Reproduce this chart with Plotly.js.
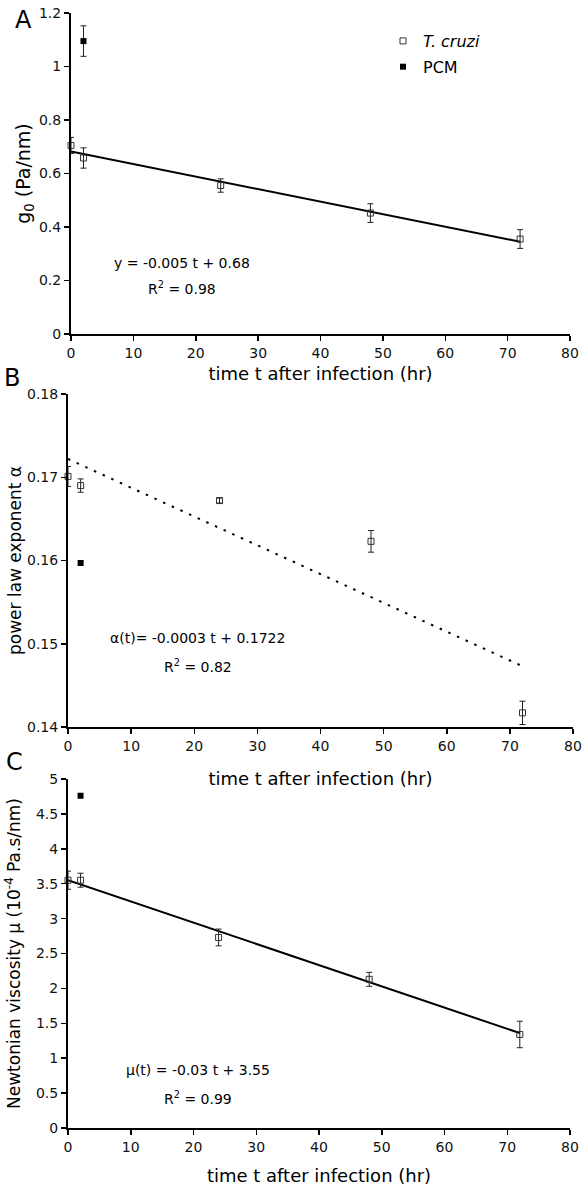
<!DOCTYPE html>
<html>
<head>
<meta charset="utf-8">
<script src="https://cdn.plot.ly/plotly-3.0.1.min.js"></script>
<style>html,body{margin:0;padding:0;background:#fff;}#chart{width:586px;height:1192px;}</style>
</head>
<body>
<div id="chart"></div>
<script>
// ---- data ----
const timeHr = [0, 2, 24, 48, 72];
const pcmTime = [2];
const fitTime = [0, 72];

const g0Cruzi = [0.705, 0.658, 0.555, 0.452, 0.355];
const g0CruziErr = [0.030, 0.038, 0.025, 0.035, 0.035];
const g0Pcm = [1.095];
const g0PcmErr = [0.057];
const g0Fit = [0.682, 0.345];

const alphaCruzi = [0.1701, 0.1690, 0.1672, 0.1623, 0.1417];
const alphaCruziErr = [0.0012, 0.0008, 0.0003, 0.0013, 0.0014];
const alphaPcm = [0.1597];
const alphaFit = [0.1722, 0.1473];

const muCruzi = [3.55, 3.55, 2.73, 2.13, 1.34];
const muCruziErr = [0.13, 0.10, 0.12, 0.10, 0.19];
const muPcm = [4.76];
const muFit = [3.55, 1.36];

const xTicks = [0, 10, 20, 30, 40, 50, 60, 70, 80];

// ---- styling helpers ----
const FONT = "'DejaVu Sans', Verdana, sans-serif";
const W = 586, H = 1192;
const px = v => v / W;
const py = v => 1 - v / H;

function openSq(x, y, err, xa, ya, legend) {
  return {
    type: 'scatter', mode: 'markers', x: x, y: y, xaxis: xa, yaxis: ya,
    name: '<i>T. cruzi</i>', showlegend: legend, legendgroup: 'a',
    cliponaxis: false,
    marker: {symbol: 'square-open', size: 6, color: '#333', line: {width: 1, color: '#333'}},
    error_y: {type: 'data', array: err, visible: true, color: '#222', thickness: 1, width: 3}
  };
}
function filledSq(x, y, err, xa, ya, legend) {
  const tr = {
    type: 'scatter', mode: 'markers', x: x, y: y, xaxis: xa, yaxis: ya,
    name: 'PCM', showlegend: legend, legendgroup: 'b',
    cliponaxis: false,
    marker: {symbol: 'square', size: 6, color: '#000'}
  };
  if (err) tr.error_y = {type: 'data', array: err, visible: true, color: '#222', thickness: 1, width: 3};
  return tr;
}
function fitLine(x, y, xa, ya, dash) {
  return {
    type: 'scatter', mode: 'lines', x: x, y: y, xaxis: xa, yaxis: ya,
    showlegend: false, hoverinfo: 'skip',
    line: {color: '#000', width: 2, dash: dash || 'solid'}
  };
}

const data = [
  fitLine(fitTime, g0Fit, 'x', 'y'),
  openSq(timeHr, g0Cruzi, g0CruziErr, 'x', 'y', true),
  filledSq(pcmTime, g0Pcm, g0PcmErr, 'x', 'y', true),
  fitLine(fitTime, alphaFit, 'x2', 'y2', '2.5px,7px'),
  openSq(timeHr, alphaCruzi, alphaCruziErr, 'x2', 'y2', false),
  filledSq(pcmTime, alphaPcm, null, 'x2', 'y2', false),
  fitLine(fitTime, muFit, 'x3', 'y3'),
  openSq(timeHr, muCruzi, muCruziErr, 'x3', 'y3', false),
  filledSq(pcmTime, muPcm, null, 'x3', 'y3', false)
];

function xAxis(domain, anchor, standoff) {
  return {
    domain: domain, anchor: anchor, range: [0, 80], tickvals: xTicks,
    showgrid: false, zeroline: false, showline: true, linecolor: '#000', linewidth: 2,
    ticks: 'outside', ticklen: 5, tickwidth: 1.5, tickcolor: '#000',
    tickfont: {family: FONT, size: 14, color: '#111'},
    title: {text: 'time t after infection (hr)', font: {family: FONT, size: 18, color: '#000'}, standoff: standoff},
    automargin: false, fixedrange: true
  };
}
function yAxis(domain, anchor, range, dtick, title, size, standoff) {
  return {
    domain: domain, anchor: anchor, range: range, dtick: dtick, tick0: 0,
    showgrid: false, zeroline: false, showline: true, linecolor: '#000', linewidth: 2,
    ticks: 'outside', ticklen: 5, tickwidth: 1.5, tickcolor: '#000',
    tickfont: {family: FONT, size: 14, color: '#111'},
    title: {text: title, font: {family: FONT, size: size, color: '#000'}, standoff: standoff},
    automargin: false, fixedrange: true
  };
}

function note(text, x, y, size) {
  return {text: text, x: px(x), y: py(y), xref: 'paper', yref: 'paper', showarrow: false,
          xanchor: 'center', yanchor: 'middle', font: {family: FONT, size: size, color: '#000'}};
}

const layout = {
  width: W, height: H,
  margin: {l: 0, r: 0, t: 0, b: 0},
  paper_bgcolor: '#fff', plot_bgcolor: 'rgba(0,0,0,0)',
  font: {family: FONT, color: '#000'},
  showlegend: true,
  legend: {
    x: px(383), y: py(24), xanchor: 'left', yanchor: 'top',
    font: {family: FONT, size: 16, color: '#000'},
    bgcolor: 'rgba(0,0,0,0)', traceorder: 'grouped', tracegroupgap: 2
  },
  xaxis: xAxis([px(71), px(570)], 'y', 8),
  yaxis: yAxis([py(334), py(13)], 'x', [0, 1.2], 0.2, 'g<sub>0</sub> (Pa/nm)', 19, 3),
  xaxis2: xAxis([px(68), px(573)], 'y2', 20),
  yaxis2: yAxis([py(727), py(394)], 'x2', [0.14, 0.18], 0.01, 'power law exponent α', 17, 1),
  xaxis3: xAxis([px(68), px(570)], 'y3', 16),
  yaxis3: yAxis([py(1128), py(779)], 'x3', [0, 5], 0.5, 'Newtonian viscosity μ (10<sup>-4</sup> Pa.s/nm)', 17, 11),
  annotations: [
    note('A', 23, 20, 24),
    note('B', 12, 378, 24),
    note('C', 14, 762, 24),
    note('y = -0.005 t + 0.68', 182, 263, 14),
    note('R<sup>2</sup> = 0.98', 182, 288, 14),
    note('α(t)= -0.0003 t + 0.1722', 197, 638, 14),
    note('R<sup>2</sup> = 0.82', 198, 666, 14),
    note('μ(t) = -0.03 t + 3.55', 198, 1070, 14),
    note('R<sup>2</sup> = 0.99', 198, 1098, 14)
  ]
};

Plotly.newPlot('chart', data, layout, {displayModeBar: false, staticPlot: true});
</script>
</body>
</html>
